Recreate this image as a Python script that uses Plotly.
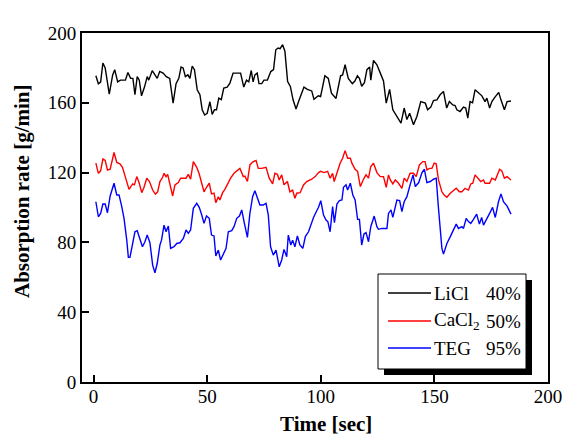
import plotly.graph_objects as go

# (time [sec], absorption rate [g/min])
LICL_40 = [(1.0,175.5),(2.1,170.9),(3.1,171.9),(4.1,182.8),(5.1,180),(6.9,165),(8.4,176),(9.3,179),(10.6,172),(11.8,173),(13.3,173),(14.0,173),(15.1,177.4),(16.3,174),(17.3,174),(18.2,164.6),(19.2,175),(20.1,173),(21.1,164),(22.4,169),(23.6,175),(24.3,173),(25.8,178.4),(26.8,176),(28.0,174),(29.1,178),(30.6,177),(32.0,175),(33.5,174),(35.0,159.8),(36.3,171),(37.5,174),(38.5,180.5),(39.4,180),(40.4,175),(41.5,176),(42.4,174),(43.4,181),(44.4,179),(45.6,167.5),(46.8,164.6),(47.8,156),(48.9,153),(50.0,154),(51.2,160.6),(52.2,153.4),(53.2,156),(54.1,156),(55.1,162.7),(56.2,161.8),(57.3,168.4),(58.8,169),(60.0,171.3),(61.4,177),(63.2,177),(64.7,177),(66.1,169),(67.3,173),(68.3,172),(69.4,178.5),(70.2,172),(71.0,176),(72.0,177),(72.8,171),(74.0,171),(75.0,173),(76.5,173),(78.0,177.9),(79.2,179),(80.2,190.4),(81.2,191.4),(82.1,191),(83.2,193.3),(84.2,189.6),(85.4,172.2),(86.6,169.4),(87.8,161.7),(89.1,156.5),(90.5,161.7),(92.6,169),(94.1,167.7),(96.0,166.8),(97.0,162),(98.9,164),(99.9,163.6),(101.8,175.5),(103.3,174),(104.7,165.5),(106.7,162.5),(108.7,175.5),(109.6,176),(110.7,181.8),(112.1,174),(113.9,171),(115.0,172.5),(116.1,175.5),(117.0,174),(118.0,169.5),(119.2,171.5),(120.3,179),(121.5,180.5),(122.0,173),(123.2,184.3),(124.7,181.8),(126.2,177),(127.6,172.5),(128.8,159.8),(130.3,167.7),(131.7,156),(133.5,152.5),(135.3,148.3),(136.7,157),(137.9,150.4),(139.1,154),(140.8,147.4),(142.3,152.2),(144.0,160.7),(146.0,159.8),(147.0,156),(148.4,157.5),(149.6,161.3),(151.1,161.7),(152.5,164.6),(154.0,166.5),(155.4,157),(156.6,160.7),(158.1,158.8),(159.1,158.4),(159.9,156),(161.3,155),(162.8,157.5),(163.8,157),(164.7,151.2),(165.7,160.7),(166.8,160),(167.9,167.5),(169.4,165.6),(170.9,164),(172.3,160.7),(173.1,162.7),(174.3,157),(175.3,160.7),(176.5,163),(178.3,166),(179.3,161.7),(180.8,156),(182.0,160.7),(183.7,161)]

CACL2_50 = [(1.0,125.4),(2.1,119.6),(3.1,121),(4.1,127.8),(5.1,127),(6.1,121.5),(7.3,122),(8.3,128.2),(9.0,131.5),(10.2,125.8),(11.6,125),(12.7,123),(13.5,119.6),(14.6,113.9),(15.6,110.4),(16.4,112),(17.2,113.5),(18.0,113),(19.0,117.7),(20.0,114.3),(21.2,108.5),(22.2,111.6),(23.4,116.8),(24.6,114.9),(26.0,110),(27.2,107.6),(28.2,109),(29.2,114.9),(30.4,117.3),(31.0,119.6),(31.9,117.7),(32.6,119),(33.6,113.9),(34.8,106.6),(35.8,112.9),(37.3,114.3),(38.3,116.8),(39.5,117),(40.7,116.8),(41.7,119),(42.7,116.2),(43.9,126.3),(45.4,123),(46.5,119.2),(48.6,109),(49.7,111.6),(50.9,113.9),(51.9,107.8),(53.0,108.2),(53.8,102.8),(54.9,106.2),(55.6,104.3),(56.8,108.5),(57.8,110.4),(58.8,112.9),(60.3,116.8),(61.8,119.6),(63.0,121),(64.4,122.4),(65.9,117.7),(66.6,118),(67.7,114.9),(68.8,124.4),(70.0,126),(71.5,127),(72.5,122.4),(74.0,122.4),(75.9,123),(77.3,116.8),(78.8,113.5),(79.8,119.6),(80.9,119),(81.7,115.8),(82.8,118.7),(83.8,113),(85.3,114.9),(86.4,109),(87.6,110),(88.6,105.3),(89.4,108.2),(90.9,108.5),(92.4,112.9),(93.8,114.9),(96.0,116.2),(97.5,117.7),(99.0,120),(100.0,120.7),(101.5,120),(103.0,120.7),(104.1,116.8),(105.2,119.6),(105.9,114.9),(107.1,119.6),(108.5,125.4),(109.6,128.2),(110.7,132.6),(111.8,128.2),(113.0,128.2),(113.7,125.4),(115.1,121.9),(116.2,120.7),(117.4,112),(118.8,116.2),(119.9,118.7),(121.0,116.8),(122.0,123.5),(123.2,125.4),(124.7,120),(126.2,117.7),(127.6,117.7),(128.8,111.6),(129.8,118.7),(130.6,115.8),(131.7,113.5),(132.8,115.8),(134.2,113.9),(135.7,111),(136.7,116.8),(137.9,114.9),(139.3,119.6),(140.8,119.6),(142.0,117.7),(143.4,124.4),(144.9,126.3),(145.9,126.3),(146.7,121.5),(147.9,122.4),(148.9,122.4),(149.9,125.4),(150.8,125),(151.8,115.8),(153.3,109),(154.3,107.2),(155.5,105.9),(157.0,108.2),(158.4,110),(159.6,111),(161.0,109),(162.1,109),(163.5,111),(165.0,110),(166.0,113.5),(166.9,113.9),(167.9,118.7),(169.4,116.2),(170.4,114.9),(171.6,115.8),(172.3,113.9),(174.3,113.9),(175.3,116.8),(176.8,115.8),(178.7,121.9),(179.7,121),(180.8,116.8),(182.0,117.7),(183.7,115.8)]

TEG_95 = [(1.0,103.3),(2.1,94.7),(3.1,96.6),(4.1,102),(5.1,102),(6.1,97),(7.3,106.6),(8.3,110.4),(9.0,113.9),(10.2,107.2),(11.2,107.2),(12.4,100.5),(13.4,93.8),(14.6,81.3),(15.3,71.4),(16.0,71.4),(17.2,80.4),(18.2,86.1),(19.2,86.7),(20.4,81.3),(21.5,77.5),(22.6,80.4),(23.6,84.2),(24.8,79.8),(26.0,67),(27.0,62.6),(28.0,67.9),(29.2,78.5),(29.9,81.3),(31.0,89.9),(31.9,86.1),(32.9,89.4),(33.9,76.6),(35.4,77.5),(36.6,79.4),(38.0,79.8),(39.5,82.3),(40.7,87.1),(41.7,85.2),(42.7,87.1),(43.9,99.5),(45.4,102.4),(46.5,100.1),(47.6,95.7),(48.6,90.9),(49.7,95.1),(50.9,93.8),(51.9,84.2),(53.0,83.7),(53.8,72.2),(54.9,75.6),(55.9,69.9),(57.1,73.7),(58.3,76.6),(59.3,86.1),(60.8,86.7),(61.8,89),(63.0,93.8),(64.2,95.1),(65.2,98.6),(66.3,91.3),(67.7,82.9),(68.8,96.6),(70.0,106.2),(71.0,109.6),(72.2,104.3),(73.2,101.4),(74.6,101.4),(75.9,102.4),(76.9,95.7),(77.9,77.5),(79.1,72.7),(80.3,75.6),(81.7,66),(82.8,69.9),(83.8,76),(85.0,71.8),(85.7,84.2),(86.8,78.5),(87.6,81.3),(88.6,77.5),(89.7,83.7),(90.8,78.5),(92.1,76.6),(93.2,83.3),(94.6,86.1),(95.6,89.9),(96.8,94.3),(98.0,97.6),(99.0,100.1),(100.0,103.9),(101.2,95.7),(102.3,92.8),(103.1,91.9),(104.1,86.1),(105.2,100.5),(106.0,91.3),(107.1,102),(108.2,103.9),(109.3,104.3),(110.0,111.6),(111.1,113),(111.8,110),(113.0,113.9),(114.1,107.2),(115.1,104.3),(116.2,93.2),(117.0,93.2),(118.0,78.5),(119.0,84.8),(119.9,85.6),(121.0,80.4),(122.0,89),(123.5,95.1),(124.7,89),(125.4,87.5),(126.9,88),(129.1,88),(129.8,96.6),(130.9,98.6),(131.7,94.3),(132.8,101.4),(133.5,104.3),(134.7,103.9),(135.7,97.6),(136.7,103.3),(137.9,106.2),(139.3,113),(140.6,118.7),(141.6,112),(143.1,114.3),(144.5,119.9),(145.6,121.9),(146.7,114.3),(148.2,114.9),(149.6,116.2),(150.8,116.8),(151.8,99.5),(152.6,85.2),(153.3,76.6),(154.0,73.3),(155.5,79.4),(157.0,83.3),(158.4,87.1),(159.6,90.5),(160.6,88),(162.1,89),(162.8,88),(164.0,93.8),(165.0,91.9),(166.0,90.9),(167.2,93.2),(168.6,96.2),(169.8,90.5),(170.8,94.3),(171.6,89.9),(172.7,92.4),(174.3,96.6),(175.6,100.1),(176.8,94.3),(178.2,103.3),(179.3,107.8),(180.4,103.3),(182.0,100.8),(183.7,96.2)]

SERIES_LABELS = ["LiCl", "CaCl<sub>2</sub>", "TEG"]
SERIES_CONC = ["40%", "50%", "95%"]
SERIES_COLORS = ["#000000", "#ff0000", "#0000ff"]
X_TICKS = [0, 50, 100, 150, 200]
Y_TICKS = [0, 40, 80, 120, 160, 200]

FONT = "Liberation Serif, Times New Roman, serif"
OFF = 8                     # page body margin
W, H = 581 - OFF, 442 - OFF
ML, MR, MT, MB = 82 - OFF, 33, 33 - OFF, 60
PW, PH = W - ML - MR, H - MT - MB

def px_to_paper_x(px):
    return (px - OFF - ML) / PW

def px_to_paper_y(py):
    return (H - MB - (py - OFF)) / PH

fig = go.Figure()
for data, label, conc, color in zip([LICL_40, CACL2_50, TEG_95], SERIES_LABELS, SERIES_CONC, SERIES_COLORS):
    fig.add_trace(go.Scatter(
        x=[p[0] for p in data], y=[p[1] for p in data],
        mode="lines", name=f"{label} {conc}", showlegend=False,
        line=dict(color=color, width=1.4),
    ))

axis_common = dict(
    showline=True, linecolor="black", linewidth=2, mirror=True,
    ticks="inside", ticklen=7, tickwidth=1.5, tickcolor="black",
    showgrid=False, zeroline=False,
    tickfont=dict(family=FONT, size=19, color="black"),
)

# legend box (drawn manually to match the reference framing with drop shadow)
LEG_L, LEG_T, LEG_R, LEG_B = 378, 274, 526, 369
SHADOW = 6
ROW_Y = [293, 321, 348]
shapes = [
    dict(type="rect", xref="paper", yref="paper",
         x0=px_to_paper_x(LEG_L + SHADOW), x1=px_to_paper_x(LEG_R + SHADOW),
         y0=px_to_paper_y(LEG_B + SHADOW), y1=px_to_paper_y(LEG_T + SHADOW),
         fillcolor="black", line=dict(width=0), layer="above"),
    dict(type="rect", xref="paper", yref="paper",
         x0=px_to_paper_x(LEG_L), x1=px_to_paper_x(LEG_R),
         y0=px_to_paper_y(LEG_B), y1=px_to_paper_y(LEG_T),
         fillcolor="white", line=dict(color="black", width=1), layer="above"),
]
annotations = []
for ry, label, conc, color in zip(ROW_Y, SERIES_LABELS, SERIES_CONC, SERIES_COLORS):
    shapes.append(dict(type="line", xref="paper", yref="paper",
                       x0=px_to_paper_x(388), x1=px_to_paper_x(431),
                       y0=px_to_paper_y(ry), y1=px_to_paper_y(ry),
                       line=dict(color=color, width=1.3), layer="above"))
    annotations.append(dict(text=label, xref="paper", yref="paper",
                            x=px_to_paper_x(432), y=px_to_paper_y(ry),
                            xanchor="left", yanchor="middle", showarrow=False,
                            font=dict(family=FONT, size=19, color="black")))
    annotations.append(dict(text=conc, xref="paper", yref="paper",
                            x=px_to_paper_x(484), y=px_to_paper_y(ry),
                            xanchor="left", yanchor="middle", showarrow=False,
                            font=dict(family=FONT, size=19, color="black")))

annotations += [
    dict(text="<b>Time [sec]</b>", xref="paper", yref="paper",
         x=px_to_paper_x(326), y=px_to_paper_y(424),
         xanchor="center", yanchor="middle", showarrow=False,
         font=dict(family=FONT, size=21, color="black")),
    dict(text="<b>Absorption rate [g/min]</b>", xref="paper", yref="paper",
         x=px_to_paper_x(22), y=px_to_paper_y(191),
         xanchor="center", yanchor="middle", showarrow=False, textangle=-90,
         font=dict(family=FONT, size=21, color="black")),
]

fig.update_layout(
    width=W, height=H,
    margin=dict(l=ML, r=MR, t=MT, b=MB),
    paper_bgcolor="white", plot_bgcolor="white",
    xaxis=dict(range=[-5.1, 200], tickvals=X_TICKS, ticklabelstandoff=-4, **axis_common),
    yaxis=dict(range=[0, 200], tickvals=Y_TICKS, **axis_common),
    showlegend=False,
    shapes=shapes,
    annotations=annotations,
)

fig.write_html("out.html")
